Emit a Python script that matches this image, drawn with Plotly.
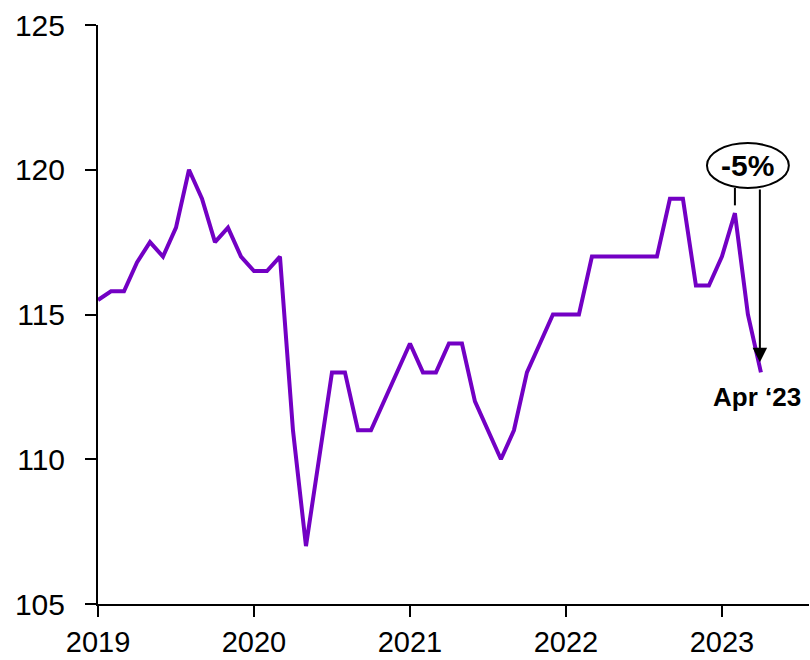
import plotly.graph_objects as go

# Monthly index values, Jan 2019 – Apr 2023
month_index = list(range(52))
index_values = [
    115.5, 115.8, 115.8, 116.8, 117.5, 117.0, 118.0, 120.0, 119.0, 117.5, 118.0, 117.0,  # 2019
    116.5, 116.5, 117.0, 111.0, 107.0, 110.0, 113.0, 113.0, 111.0, 111.0, 112.0, 113.0,  # 2020
    114.0, 113.0, 113.0, 114.0, 114.0, 112.0, 111.0, 110.0, 111.0, 113.0, 114.0, 115.0,  # 2021
    115.0, 115.0, 117.0, 117.0, 117.0, 117.0, 117.0, 117.0, 119.0, 119.0, 116.0, 116.0,  # 2022
    117.0, 118.5, 115.0, 113.0,                                                          # 2023
]
year_ticks = [0, 12, 24, 36, 48]
year_labels = ["2019", "2020", "2021", "2022", "2023"]
y_ticks = [105, 110, 115, 120, 125]

change_label = "-5%"
end_label = "Apr \u201823"

LINE_COLOR = "#7300C4"
FONT = "Liberation Sans"

peak_i = 49
last_i = month_index[-1]
peak_v = index_values[peak_i]
last_v = index_values[-1]

fig = go.Figure()
fig.add_trace(go.Scatter(
    x=month_index, y=index_values, mode="lines",
    line=dict(color=LINE_COLOR, width=4), hoverinfo="skip",
))

# Callout ellipse with the percentage change
ell_bottom = peak_v + 0.87
ell_top = peak_v + 2.42
fig.add_shape(type="circle", xref="x", yref="y",
              x0=peak_i - 2.15, x1=peak_i + 4.15, y0=ell_bottom, y1=ell_top,
              line=dict(color="black", width=2), fillcolor="white", layer="above")
fig.add_annotation(x=peak_i + 1.0, y=(ell_bottom + ell_top) / 2, text=f"<b>{change_label}</b>",
                   showarrow=False, font=dict(family=FONT, size=30, color="black"),
                   xanchor="center", yanchor="middle")

# Leader from the ellipse to the peak
fig.add_shape(type="line", xref="x", yref="y",
              x0=peak_i, x1=peak_i, y0=ell_bottom, y1=peak_v + 0.27,
              line=dict(color="black", width=2))

# Arrow down to the latest value
fig.add_annotation(x=last_i - 0.08, y=last_v + 0.35, ax=last_i - 0.08, ay=ell_bottom,
                   xref="x", yref="y", axref="x", ayref="y", text="",
                   showarrow=True, arrowhead=2, arrowsize=1.45, arrowwidth=2,
                   arrowcolor="black", standoff=0)

fig.add_annotation(x=last_i - 0.3, y=last_v - 0.85, text=f"<b>{end_label}</b>",
                   showarrow=False, font=dict(family=FONT, size=26, color="black"),
                   xanchor="center", yanchor="middle")

fig.update_layout(
    width=810, height=660,
    margin=dict(l=98, r=1, t=25, b=56),
    paper_bgcolor="white", plot_bgcolor="white",
    showlegend=False,
    font=dict(family=FONT, color="black"),
    xaxis=dict(
        range=[0, 54.7], tickmode="array", tickvals=year_ticks, ticktext=year_labels,
        showgrid=False, zeroline=False, showline=True, linecolor="black", linewidth=2,
        ticks="outside", ticklen=11, tickwidth=2, tickcolor="black",
        tickfont=dict(family=FONT, size=29, color="black"),
        ticklabelstandoff=0, automargin=False,
    ),
    yaxis=dict(
        range=[105, 125], tickmode="array", tickvals=y_ticks,
        showgrid=False, zeroline=False, showline=True, linecolor="black", linewidth=2,
        ticks="outside", ticklen=11, tickwidth=2, tickcolor="black",
        tickfont=dict(family=FONT, size=30, color="black"),
        ticklabelstandoff=14, automargin=False,
    ),
)

fig.write_html("out.html")
